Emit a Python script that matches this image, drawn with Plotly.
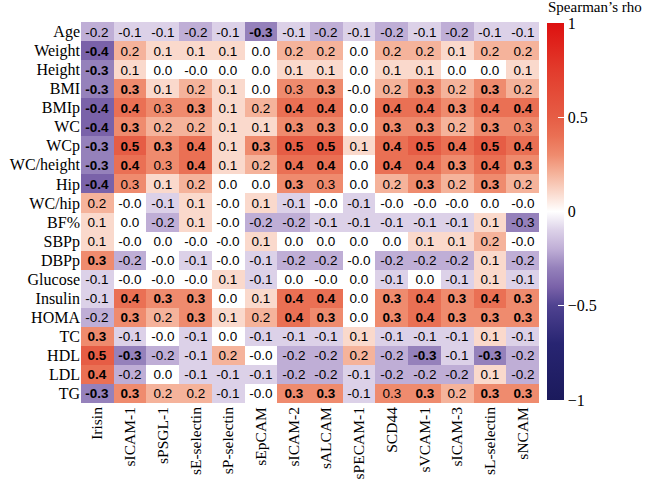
import plotly.graph_objects as go

columns = ["Irisin", "sICAM-1", "sPSGL-1", "sE-selectin", "sP-selectin", "sEpCAM",
           "sICAM-2", "sALCAM", "sPECAM-1", "SCD44", "sVCAM-1", "sICAM-3",
           "sL-selectin", "sNCAM"]

rows = ["Age", "Weight", "Height", "BMI", "BMIp", "WC", "WCp", "WC/height", "Hip",
        "WC/hip", "BF%", "SBPp", "DBPp", "Glucose", "Insulin", "HOMA", "TC", "HDL",
        "LDL", "TG"]

rho = [
    [-0.2, -0.1, -0.1, -0.2, -0.1, -0.3, -0.1, -0.2, -0.1, -0.2, -0.1, -0.2, -0.1, -0.1],
    [-0.4, 0.2, 0.1, 0.1, 0.1, 0.0, 0.2, 0.2, 0.0, 0.2, 0.2, 0.1, 0.2, 0.2],
    [-0.3, 0.1, 0.0, -0.0, 0.0, 0.0, 0.1, 0.1, 0.0, 0.1, 0.1, 0.0, 0.0, 0.1],
    [-0.3, 0.3, 0.1, 0.2, 0.1, 0.0, 0.3, 0.3, -0.0, 0.2, 0.3, 0.2, 0.3, 0.2],
    [-0.4, 0.4, 0.3, 0.3, 0.1, 0.2, 0.4, 0.4, 0.0, 0.4, 0.4, 0.3, 0.4, 0.4],
    [-0.4, 0.3, 0.2, 0.2, 0.1, 0.1, 0.3, 0.3, 0.0, 0.3, 0.3, 0.2, 0.3, 0.3],
    [-0.3, 0.5, 0.3, 0.4, 0.1, 0.3, 0.5, 0.5, 0.1, 0.4, 0.5, 0.4, 0.5, 0.4],
    [-0.3, 0.4, 0.3, 0.4, 0.1, 0.2, 0.4, 0.4, 0.0, 0.4, 0.4, 0.3, 0.4, 0.3],
    [-0.4, 0.3, 0.1, 0.2, 0.0, 0.0, 0.3, 0.3, 0.0, 0.2, 0.3, 0.2, 0.3, 0.2],
    [0.2, -0.0, -0.1, 0.1, -0.0, 0.1, -0.1, -0.0, -0.1, -0.0, -0.0, -0.0, 0.0, -0.0],
    [0.1, 0.0, -0.2, 0.1, -0.0, -0.2, -0.2, -0.1, -0.1, -0.1, -0.1, -0.1, 0.1, -0.3],
    [0.1, -0.0, 0.0, -0.0, -0.0, 0.1, 0.0, 0.0, 0.0, 0.0, 0.1, 0.1, 0.2, -0.0],
    [0.3, -0.2, -0.0, -0.1, -0.0, -0.1, -0.2, -0.2, -0.0, -0.2, -0.2, -0.2, 0.1, -0.2],
    [-0.1, -0.0, -0.0, -0.0, 0.1, -0.1, 0.0, -0.0, 0.0, -0.1, 0.0, -0.1, 0.1, -0.1],
    [-0.1, 0.4, 0.3, 0.3, 0.0, 0.1, 0.4, 0.4, 0.0, 0.3, 0.4, 0.3, 0.4, 0.3],
    [-0.2, 0.3, 0.2, 0.3, 0.1, 0.2, 0.4, 0.3, 0.0, 0.3, 0.4, 0.3, 0.3, 0.3],
    [0.3, -0.1, -0.0, -0.1, 0.0, -0.1, -0.1, -0.1, 0.1, -0.1, -0.1, -0.1, 0.1, -0.1],
    [0.5, -0.3, -0.2, -0.1, 0.2, -0.0, -0.2, -0.2, 0.2, -0.2, -0.3, -0.1, -0.3, -0.2],
    [0.4, -0.2, 0.0, -0.1, -0.1, -0.1, -0.2, -0.2, -0.1, -0.2, -0.2, -0.2, 0.1, -0.2],
    [-0.3, 0.3, 0.2, 0.2, -0.1, -0.0, 0.3, 0.3, -0.1, 0.3, 0.3, 0.2, 0.3, 0.3],
]

# 1 = significant (shown in bold)
significant = [
    [0, 0, 0, 0, 0, 1, 0, 0, 0, 0, 0, 0, 0, 0],
    [1, 0, 0, 0, 0, 0, 0, 0, 0, 0, 0, 0, 0, 0],
    [1, 0, 0, 0, 0, 0, 0, 0, 0, 0, 0, 0, 0, 0],
    [1, 1, 0, 0, 0, 0, 0, 1, 0, 0, 1, 0, 1, 0],
    [1, 1, 0, 1, 0, 0, 1, 1, 0, 1, 1, 1, 1, 1],
    [1, 1, 0, 0, 0, 0, 1, 1, 0, 1, 1, 0, 1, 0],
    [1, 1, 1, 1, 0, 1, 1, 1, 0, 1, 1, 1, 1, 1],
    [1, 1, 0, 1, 0, 0, 1, 1, 0, 1, 1, 1, 1, 1],
    [1, 0, 0, 0, 0, 0, 1, 0, 0, 0, 1, 0, 1, 0],
    [0, 0, 0, 0, 0, 0, 0, 0, 0, 0, 0, 0, 0, 0],
    [0, 0, 0, 0, 0, 0, 0, 0, 0, 0, 0, 0, 0, 0],
    [0, 0, 0, 0, 0, 0, 0, 0, 0, 0, 0, 0, 0, 0],
    [1, 0, 0, 0, 0, 0, 0, 0, 0, 0, 0, 0, 0, 0],
    [0, 0, 0, 0, 0, 0, 0, 0, 0, 0, 0, 0, 0, 0],
    [0, 1, 1, 1, 0, 0, 1, 1, 0, 1, 1, 1, 1, 1],
    [0, 1, 0, 1, 0, 0, 1, 1, 0, 1, 1, 1, 1, 1],
    [1, 0, 0, 0, 0, 0, 0, 0, 0, 0, 0, 0, 0, 0],
    [1, 1, 0, 0, 0, 0, 0, 0, 0, 0, 1, 0, 1, 0],
    [1, 0, 0, 0, 0, 0, 0, 0, 0, 0, 0, 0, 0, 0],
    [1, 1, 0, 0, 0, 0, 1, 1, 0, 0, 1, 0, 1, 1],
]

colorbar_ticks = [-1, -0.5, 0, 0.5, 1]
colorbar_title = "Spearman\u2019s rho"

text = [
    [("<b>%.1f</b>" % v) if s else ("%.1f" % v) for v, s in zip(rv, rs)]
    for rv, rs in zip(rho, significant)
]

colorscale = [
    [0.0, "#1b1a5c"],
    [0.15, "#282572"],
    [0.25, "#4f4290"],
    [0.30, "#7a62a9"],
    [0.35, "#9581bb"],
    [0.40, "#bfaed6"],
    [0.45, "#dcd1e8"],
    [0.5, "#ffffff"],
    [0.55, "#fad9cc"],
    [0.60, "#f5b39b"],
    [0.65, "#ef8b6e"],
    [0.70, "#ea7054"],
    [0.75, "#e65d45"],
    [0.88, "#e23a2b"],
    [1.0, "#dd1010"],
]

serif = "Liberation Serif, DejaVu Serif, serif"

fig = go.Figure(
    go.Heatmap(
        z=rho,
        x=columns,
        y=rows,
        zmin=-1,
        zmax=1,
        colorscale=colorscale,
        text=text,
        texttemplate="%{text}",
        textfont=dict(family="Liberation Sans, Arial, sans-serif", size=13.5, color="black"),
        colorbar=dict(
            tickvals=colorbar_ticks,
            ticks="inside",
            tickcolor="white",
            ticklen=6,
            tickwidth=1,
            outlinewidth=0,
            thicknessmode="pixels",
            thickness=17,
            lenmode="pixels",
            len=377,
            x=1.0,
            xanchor="left",
            xpad=8,
            y=1.0 - 1 / 381,
            yanchor="top",
            ypad=0,
            tickfont=dict(family=serif, size=16, color="black"),
        ),
    )
)

fig.add_annotation(
    text=colorbar_title, xref="paper", yref="paper",
    x=1.0175, y=1.0 + 24 / 381, xanchor="left", yanchor="top",
    showarrow=False, borderpad=0,
    font=dict(family=serif, size=15, color="black"),
)

fig.update_layout(
    width=652,
    height=484,
    margin=dict(l=81, r=113, t=22, b=81),
    paper_bgcolor="white",
    plot_bgcolor="white",
    font=dict(family=serif, size=16, color="black"),
    xaxis=dict(tickangle=-90, showgrid=False, zeroline=False, ticks="", automargin=False,
               tickfont=dict(family=serif, size=15.5)),
    yaxis=dict(autorange="reversed", showgrid=False, zeroline=False, ticks="",
               automargin=False, tickfont=dict(family=serif, size=16)),
)

# remove the browser's default 8px body margin so the figure fills the window
fig.write_html("out.html", config={"displayModeBar": False},
               post_script="document.body.style.margin='0';")
